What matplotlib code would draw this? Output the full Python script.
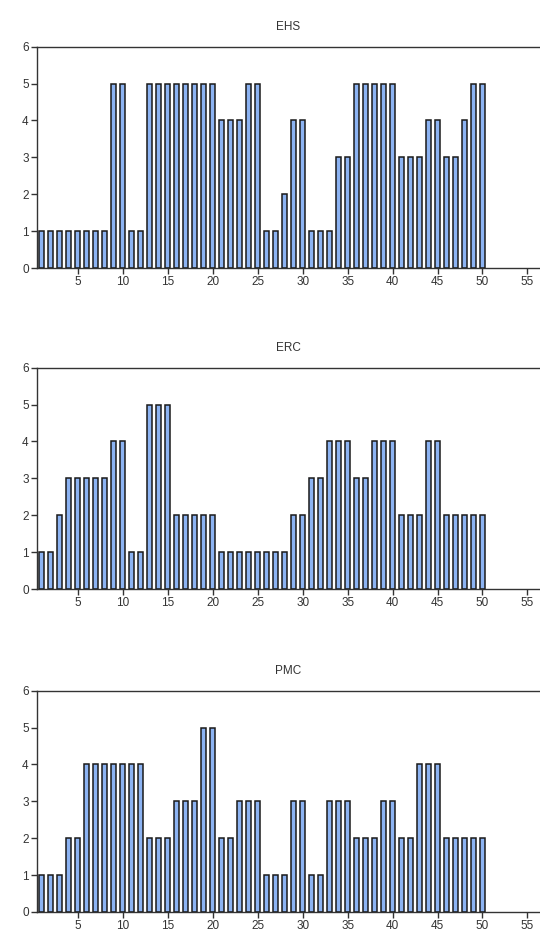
import numpy as np
import matplotlib.pyplot as plt

plt.rcParams['font.family'] = ['Liberation Sans', 'DejaVu Sans']

obs = np.arange(1, 51)
ehs = [1, 1, 1, 1, 1, 1, 1, 1, 5, 5, 1, 1, 5, 5, 5, 5, 5, 5, 5, 5,
       4, 4, 4, 5, 5, 1, 1, 2, 4, 4, 1, 1, 1, 3, 3, 5, 5, 5, 5, 5,
       3, 3, 3, 4, 4, 3, 3, 4, 5, 5]
erc = [1, 1, 2, 3, 3, 3, 3, 3, 4, 4, 1, 1, 5, 5, 5, 2, 2, 2, 2, 2,
       1, 1, 1, 1, 1, 1, 1, 1, 2, 2, 3, 3, 4, 4, 4, 3, 3, 4, 4, 4,
       2, 2, 2, 4, 4, 2, 2, 2, 2, 2]
pmc = [1, 1, 1, 2, 2, 4, 4, 4, 4, 4, 4, 4, 2, 2, 2, 3, 3, 3, 5, 5,
       2, 2, 3, 3, 3, 1, 1, 1, 3, 3, 1, 1, 3, 3, 3, 2, 2, 2, 3, 3,
       2, 2, 4, 4, 4, 2, 2, 2, 2, 2]
titles = ['EHS', 'ERC', 'PMC']
series = [ehs, erc, pmc]

fig = plt.figure(figsize=(5.4, 9.32), dpi=100)
bottoms = [0.7124, 0.368, 0.0215]
for title, vals, b in zip(titles, series, bottoms):
    ax = fig.add_axes([0.0685, b, 0.9315, 0.2375])
    ax.bar(obs, vals, width=0.56, color='#8cb3f2', edgecolor='#1a1a1a', linewidth=1.1)
    ax.set_xlim(0.45, 56.4)
    ax.set_ylim(0, 6)
    ax.set_xticks(range(5, 56, 5))
    ax.set_yticks(range(0, 7))
    ax.tick_params(direction='out', length=4, width=1, labelsize=8.5, colors='#333333', pad=2)
    ax.spines['right'].set_visible(False)
    for s in ['left', 'bottom', 'top']:
        ax.spines[s].set_linewidth(1.0)
        ax.spines[s].set_color('#333333')
    ax.set_title(title, fontsize=8.5, color='#333333', pad=12)

fig.savefig('out.png', dpi=100)
